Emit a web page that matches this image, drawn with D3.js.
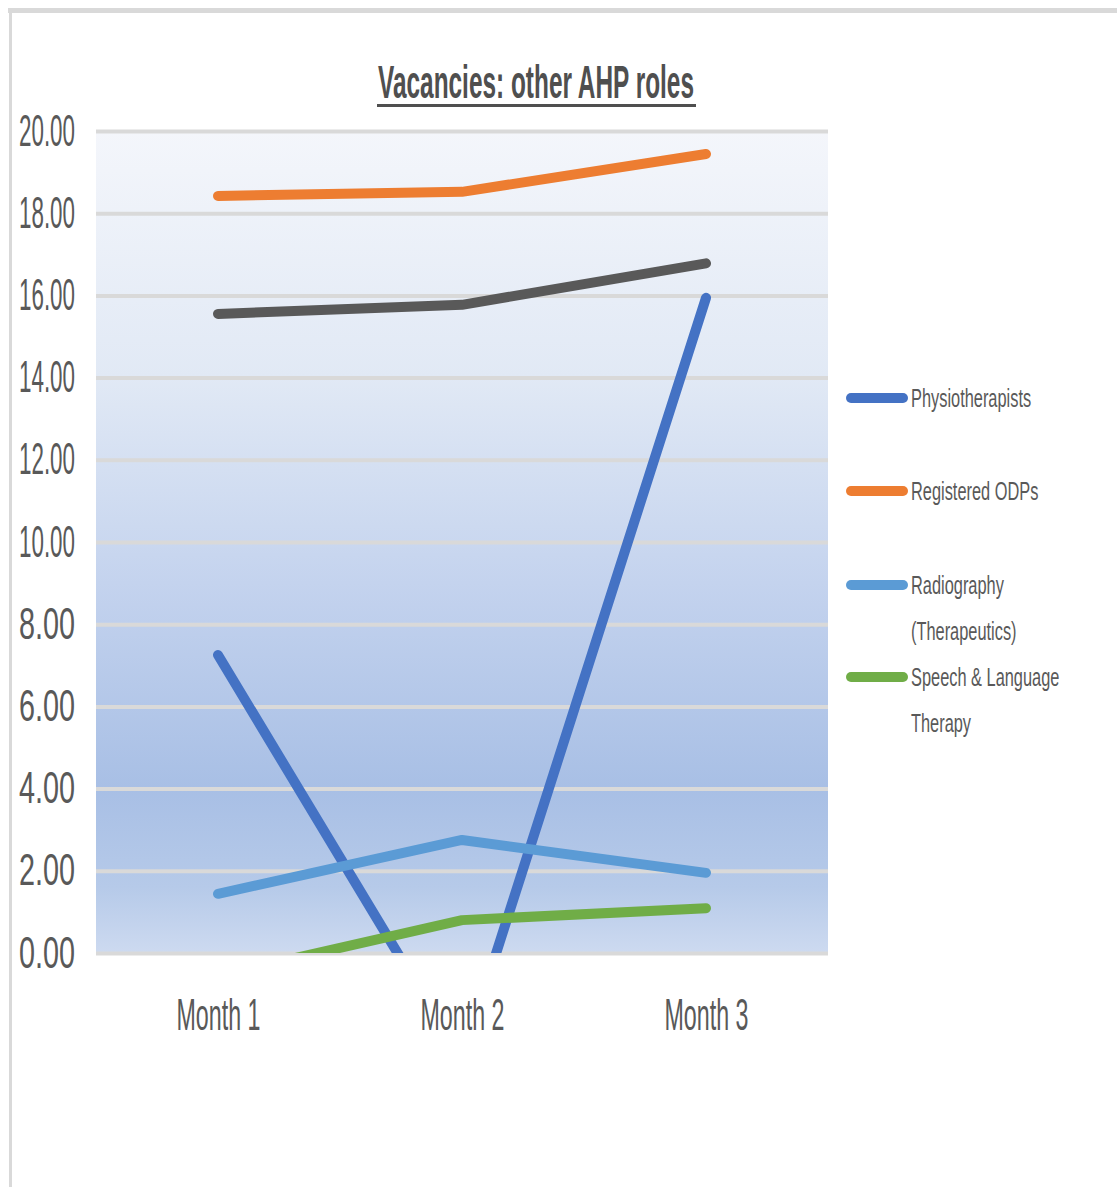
<!DOCTYPE html>
<html>
<head>
<meta charset="utf-8">
<title>Vacancies: other AHP roles</title>
<script src="https://cdn.jsdelivr.net/npm/d3@7"></script>
<style>
    html, body { margin: 0; padding: 0; background: #ffffff; }
    svg { display: block; }
    text { font-family: "Liberation Sans Narrow", "Liberation Sans", "DejaVu Sans Condensed", sans-serif; fill: #595959; }
</style>
</head>
<body>
<div id="chart"></div>
<script>
/* data */

var months = ['Month 1', 'Month 2', 'Month 3'];
var yTicks = [0, 2, 4, 6, 8, 10, 12, 14, 16, 18, 20];

var physiotherapists = [7.25, -2.6, 15.94];
var registeredOdps = [18.42, 18.52, 19.44];
var unlabelledSeries = [15.55, 15.77, 16.78];
var radiographyTherapeutics = [1.44, 2.75, 1.95];
var speechLanguageTherapy = [-0.55, 0.8, 1.09];

var seriesNames = ['Physiotherapists', 'Registered ODPs', '', 'Radiography (Therapeutics)', 'Speech & Language Therapy'];
var legendLines = [['Physiotherapists'], ['Registered ODPs'], ['Radiography', '(Therapeutics)'], ['Speech & Language', 'Therapy']];

(function drawVacancyChart() {
    'use strict';

    var width = 1117;
    var height = 1187;
    var plot = { left: 96, right: 828, top: 131, bottom: 953 };

    var series = [
        { name: seriesNames[0], values: physiotherapists, color: '#4472c4' },
        { name: seriesNames[1], values: registeredOdps, color: '#ed7d31' },
        { name: seriesNames[2], values: unlabelledSeries, color: '#595959' },
        { name: seriesNames[3], values: radiographyTherapeutics, color: '#5b9bd5' },
        { name: seriesNames[4], values: speechLanguageTherapy, color: '#70ad47' }
    ];
    var legendColors = ['#4472c4', '#ed7d31', '#5b9bd5', '#70ad47'];

    var svg = d3.select('#chart').append('svg')
        .attr('width', width)
        .attr('height', height)
    ;

    /* scales */

    var x = d3.scalePoint()
        .domain(months)
        .range([plot.left, plot.right])
        .padding(0.5)
    ;

    var y = d3.scaleLinear()
        .domain([0, 20])
        .range([plot.bottom, plot.top])
    ;

    /* defs: gradient + clip */

    var defs = svg.append('defs');

    var grad = defs.append('linearGradient')
        .attr('id', 'plot-bg')
        .attr('x1', 0).attr('y1', 0)
        .attr('x2', 0).attr('y2', 1)
    ;
    [
        ['0%', '#f4f6fb'],
        ['30%', '#e1e9f5'],
        ['55%', '#c4d3ee'],
        ['80%', '#a8bfe5'],
        ['92%', '#b6cae9'],
        ['100%', '#cddaf0']
    ].forEach(function (s) {
        grad.append('stop').attr('offset', s[0]).attr('stop-color', s[1]);
    });

    defs.append('clipPath')
        .attr('id', 'plot-clip')
        .append('rect')
        .attr('x', plot.left)
        .attr('y', plot.top - 20)
        .attr('width', plot.right - plot.left)
        .attr('height', plot.bottom - plot.top + 20)
    ;

    /* frame of the screenshot */

    svg.append('rect')
        .attr('x', 8).attr('y', 8)
        .attr('width', width - 8).attr('height', 5)
        .attr('fill', '#d9d9d9')
    ;
    svg.append('rect')
        .attr('x', 9).attr('y', 8)
        .attr('width', 3).attr('height', height - 8)
        .attr('fill', '#d9d9d9')
    ;

    /* plot background */

    svg.append('rect')
        .attr('x', plot.left)
        .attr('y', plot.top)
        .attr('width', plot.right - plot.left)
        .attr('height', plot.bottom - plot.top)
        .attr('fill', 'url(#plot-bg)')
    ;

    /* grid lines + y axis */

    var yAxis = d3.axisLeft(y)
        .tickValues(yTicks)
        .tickSize(-(plot.right - plot.left))
        .tickPadding(20)
        .tickFormat(d3.format('.2f'))
    ;

    var yAxisG = svg.append('g')
        .attr('transform', 'translate(' + plot.left + ',0)')
        .call(yAxis)
    ;
    yAxisG.select('.domain').remove();
    yAxisG.selectAll('line')
        .attr('stroke', '#d9d9d9')
        .attr('stroke-width', 4)
    ;
    yAxisG.selectAll('text')
        .attr('x', -21)
        .attr('dy', '0.32em')
        .attr('font-size', 44)
        .attr('textLength', 56)
        .attr('lengthAdjust', 'spacingAndGlyphs')
        .style('fill', '#595959')
    ;

    /* x axis labels */

    var xAxis = d3.axisBottom(x).tickSize(0).tickPadding(75);
    var xAxisG = svg.append('g')
        .attr('transform', 'translate(0,' + plot.bottom + ')')
        .call(xAxis)
    ;
    xAxisG.select('.domain').remove();
    xAxisG.selectAll('text')
        .attr('y', 77)
        .attr('dy', 0)
        .attr('font-size', 45)
        .attr('textLength', 84)
        .attr('lengthAdjust', 'spacingAndGlyphs')
        .style('fill', '#595959')
    ;

    /* lines */

    var line = d3.line()
        .x(function (d, i) { return x(months[i]); })
        .y(function (d) { return y(d); })
    ;

    svg.append('g')
        .attr('clip-path', 'url(#plot-clip)')
        .selectAll('path')
        .data(series)
        .enter()
        .append('path')
        .attr('d', function (s) { return line(s.values); })
        .attr('fill', 'none')
        .attr('stroke', function (s) { return s.color; })
        .attr('stroke-width', 10)
        .attr('stroke-linecap', 'round')
        .attr('stroke-linejoin', 'round')
    ;

    /* title */

    svg.append('text')
        .attr('x', 536)
        .attr('y', 98)
        .attr('text-anchor', 'middle')
        .attr('font-size', 46)
        .attr('font-weight', 'bold')
        .attr('textLength', 316)
        .attr('lengthAdjust', 'spacingAndGlyphs')
        .style('fill', '#4f4f4f')
        .text('Vacancies: other AHP roles')
    ;
    svg.append('rect')
        .attr('x', 377).attr('y', 104)
        .attr('width', 319).attr('height', 3)
        .attr('fill', '#4f4f4f')
    ;

    /* legend (squeezed horizontally like the original) */

    var legendY = [398, 491, 585, 677];
    var squeeze = 0.63;

    var legend = svg.append('g').attr('class', 'legend');
    legendLines.forEach(function (lines, i) {
        legend.append('line')
            .attr('x1', 851).attr('x2', 903)
            .attr('y1', legendY[i]).attr('y2', legendY[i])
            .attr('stroke', legendColors[i])
            .attr('stroke-width', 10)
            .attr('stroke-linecap', 'round')
        ;
        lines.forEach(function (t, j) {
            legend.append('text')
                .attr('transform', 'translate(911,' + (legendY[i] + j * 46) + ') scale(' + squeeze + ',1)')
                .attr('dy', '0.35em')
                .attr('font-size', 26)
                .text(t)
            ;
        });
    });
})();
</script>
</body>
</html>
